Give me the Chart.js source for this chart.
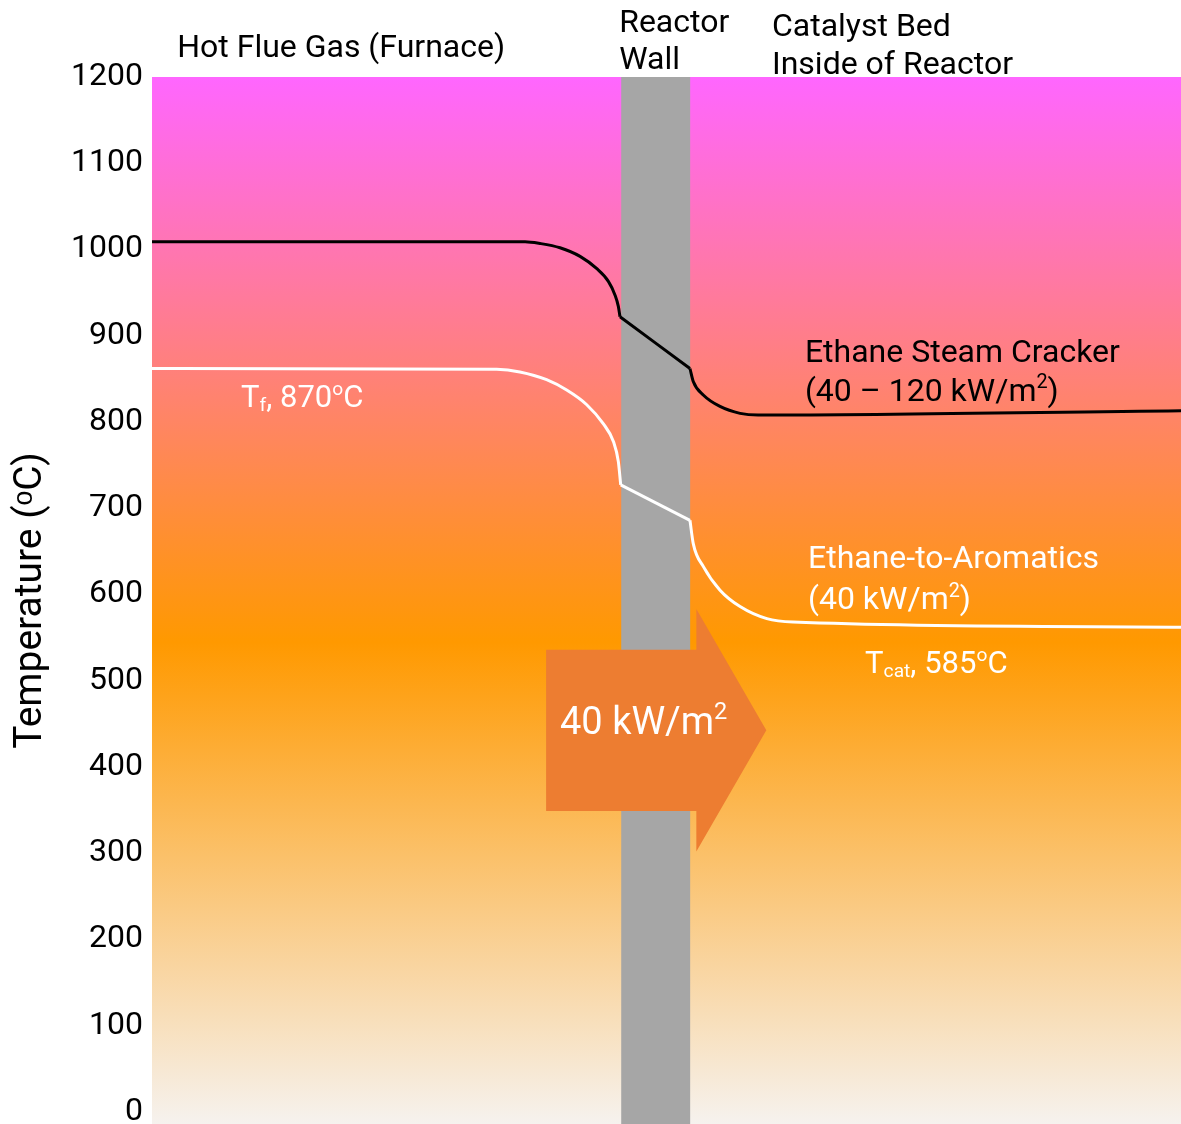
<!DOCTYPE html>
<html>
<head>
  <title>Reactor Wall Temperature Profile</title>
  <meta charset="utf-8" />
  <script src="https://cdn.jsdelivr.net/npm/chart.js"></script>
  <style>
    html, body { margin: 0; padding: 0; background: #fff; }
    #chartBox { width: 1181px; height: 1124px; }
  </style>
</head>
<body>
<div id="chartBox"><canvas id="myChart" width="1181" height="1124"></canvas></div>

<script>
  // distance through furnace -> wall -> catalyst bed (arbitrary units, 0..100)
  const crackerX    = [0, 36.25, 37.7, 39.65, 41.6, 43.2, 44.35, 45.0, 45.32, 45.48, 52.28, 52.6, 53.6, 55.2, 57.15, 58.9, 100];
  const crackerTemp = [1009, 1009, 1007, 1002, 992, 978, 963, 947, 934, 922, 862, 847, 831, 818, 810, 808, 813];

  const aromaticsX    = [0, 33.5, 35.75, 38.35, 40.3, 42.25, 43.85, 44.85, 45.32, 45.55, 52.28, 52.6, 53.6, 55.2, 57.15, 59.75, 62.3, 100];
  const aromaticsTemp = [862, 861, 858, 849, 837, 820, 798, 777, 754, 727, 686, 659, 632, 605, 586, 572, 568, 562];

  const yTicks = [0, 100, 200, 300, 400, 500, 600, 700, 800, 900, 1000, 1100, 1200];

  // reactor wall spans this part of the distance axis
  const wallStart = 45.6;
  const wallEnd = 52.3;

  // heat flux arrow (distance / temperature units)
  const arrowX = [38.3, 52.9, 59.7];          // tail, head base, tip
  const arrowBody = [349, 536];               // bottom, top of shaft
  const arrowHead = [302, 583];               // bottom, top of head

  const FONT = 'Roboto, "Open Sans", sans-serif';

  // labels: position in data units, pieces of text (sup/sub for small raised/lowered bits)
  const labels = [
    { x: 2.45, y: 1233, size: 32, color: '#000', parts: [{ t: 'Hot Flue Gas (Furnace)' }] },
    { x: 45.4, y: 1262, size: 32, color: '#000', parts: [{ t: 'Reactor' }] },
    { x: 45.4, y: 1218, size: 32, color: '#000', parts: [{ t: 'Wall' }] },
    { x: 60.25, y: 1257, size: 32, color: '#000', parts: [{ t: 'Catalyst Bed' }] },
    { x: 60.25, y: 1213, size: 32, color: '#000', parts: [{ t: 'Inside of Reactor' }] },
    { x: 63.45, y: 879, size: 32, color: '#000', parts: [{ t: 'Ethane Steam Cracker' }] },
    { x: 63.45, y: 834, size: 32, color: '#000', parts: [{ t: '(40 \u2013 120 kW/m' }, { t: '2', sup: true }, { t: ')' }] },
    { x: 63.75, y: 640, size: 32, color: '#fff', parts: [{ t: 'Ethane-to-Aromatics' }] },
    { x: 63.75, y: 592, size: 32, color: '#fff', parts: [{ t: '(40 kW/m' }, { t: '2', sup: true }, { t: ')' }] },
    { x: 8.65, y: 826, size: 31, color: '#fff', parts: [{ t: 'T' }, { t: 'f', sub: true }, { t: ', 870' }, { t: 'o', sup: true }, { t: 'C' }] },
    { x: 69.3, y: 518, size: 31, color: '#fff', parts: [{ t: 'T' }, { t: 'cat', sub: true }, { t: ', 585' }, { t: 'o', sup: true }, { t: 'C' }] },
    { x: 39.65, y: 449, size: 38, color: '#fff', parts: [{ t: '40 kW/m' }, { t: '2', sup: true }] }
  ];

  function drawRich(ctx, x, y, parts, size, color) {
    ctx.save();
    ctx.fillStyle = color;
    ctx.textBaseline = 'middle';
    ctx.textAlign = 'left';
    let cx = x;
    for (const p of parts) {
      let s = size, dy = 0;
      if (p.sup) { s = size * 0.62; dy = -size * 0.3; }
      if (p.sub) { s = size * 0.62; dy = size * 0.22; }
      ctx.font = s + 'px ' + FONT;
      ctx.fillText(p.t, cx, y + dy);
      cx += ctx.measureText(p.t).width;
    }
    ctx.restore();
  }

  // split a profile into furnace side / wall / catalyst side so the
  // straight run through the wall is not bent by the curve smoothing
  function pieces(xs, ys) {
    const pts = xs.map((v, i) => ({ x: v, y: ys[i] }));
    const inWall = pts.filter(p => p.x >= wallStart - 0.15 && p.x <= wallEnd + 0.05);
    const a = pts.filter(p => p.x <= inWall[0].x);
    const c = pts.filter(p => p.x >= inWall[inWall.length - 1].x);
    return [a, inWall, c];
  }

  const backdrop = {
    id: 'backdrop',
    beforeDatasetsDraw(chart) {
      const { ctx, chartArea: a, scales: { x, y } } = chart;
      ctx.save();
      const g = ctx.createLinearGradient(0, a.top, 0, a.bottom);
      g.addColorStop(0, '#FF66FF');
      g.addColorStop(0.54, '#FF9900');
      g.addColorStop(1, '#F6F2EE');
      ctx.fillStyle = g;
      ctx.fillRect(a.left, a.top, a.right - a.left, a.bottom - a.top);

      // reactor wall
      ctx.fillStyle = '#A6A6A6';
      const wl = x.getPixelForValue(wallStart), wr = x.getPixelForValue(wallEnd);
      ctx.fillRect(wl, a.top, wr - wl, a.bottom - a.top);

      // heat flux arrow
      ctx.fillStyle = '#ED7D31';
      ctx.beginPath();
      ctx.moveTo(x.getPixelForValue(arrowX[0]), y.getPixelForValue(arrowBody[1]));
      ctx.lineTo(x.getPixelForValue(arrowX[1]), y.getPixelForValue(arrowBody[1]));
      ctx.lineTo(x.getPixelForValue(arrowX[1]), y.getPixelForValue(arrowHead[1]));
      ctx.lineTo(x.getPixelForValue(arrowX[2]), y.getPixelForValue((arrowHead[0] + arrowHead[1]) / 2));
      ctx.lineTo(x.getPixelForValue(arrowX[1]), y.getPixelForValue(arrowHead[0]));
      ctx.lineTo(x.getPixelForValue(arrowX[1]), y.getPixelForValue(arrowBody[0]));
      ctx.lineTo(x.getPixelForValue(arrowX[0]), y.getPixelForValue(arrowBody[0]));
      ctx.closePath();
      ctx.fill();
      ctx.restore();
    },
    afterDatasetsDraw(chart) {
      const { ctx, scales: { x, y } } = chart;
      for (const l of labels) {
        drawRich(ctx, x.getPixelForValue(l.x), y.getPixelForValue(l.y), l.parts, l.size, l.color);
      }
    }
  };

  const datasets = [];
  pieces(crackerX, crackerTemp).forEach(p => datasets.push({
    label: 'Ethane Steam Cracker', data: p, borderColor: '#000', borderWidth: 3
  }));
  pieces(aromaticsX, aromaticsTemp).forEach(p => datasets.push({
    label: 'Ethane-to-Aromatics', data: p, borderColor: '#fff', borderWidth: 3
  }));

  new Chart(document.getElementById('myChart'), {
    type: 'line',
    data: { datasets: datasets },
    options: {
      responsive: false,
      animation: false,
      layout: { padding: { top: 77, left: 0, right: 0, bottom: 0 } },
      elements: {
        point: { radius: 0 },
        line: { cubicInterpolationMode: 'monotone', fill: false, borderJoinStyle: 'round' }
      },
      plugins: { legend: { display: false }, tooltip: { enabled: false } },
      scales: {
        x: { type: 'linear', min: 0, max: 100, display: false },
        y: {
          min: -14,
          max: 1200,
          afterBuildTicks: s => { s.ticks = yTicks.map(v => ({ value: v })); },
          afterFit: s => { s.width = 152; s.paddingTop = 0; s.paddingBottom = 0; },
          grid: { display: false, drawTicks: false },
          border: { display: false },
          ticks: { color: '#000', padding: 9, font: { family: FONT, size: 32 }, callback: v => String(v) },
          title: {
            display: true,
            text: 'Temperature (\u1D52C)',
            color: '#000',
            padding: { top: 8, bottom: 0 },
            font: { family: FONT, size: 39 }
          }
        }
      }
    },
    plugins: [backdrop]
  });
</script>
</body>
</html>
